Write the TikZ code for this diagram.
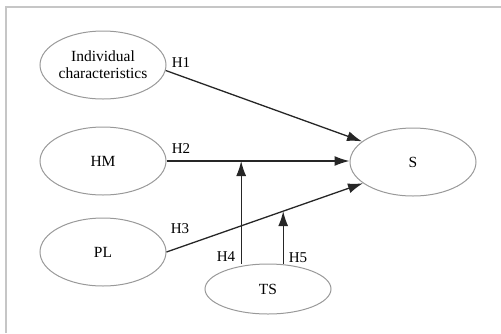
\documentclass[tikz,border=0pt]{standalone}
\usepackage{fontspec}
\setmainfont{Liberation Serif}
\usepackage{tikz}
\usetikzlibrary{positioning,arrows.meta,calc,shapes.geometric}
\tikzset{
    construct/.style = {
        draw=gray!80,
        shape=ellipse,
        minimum width=126pt,
        minimum height=68pt,
        inner sep=0pt,
        line width=1pt,
        font=\fontsize{15.5}{17}\selectfont,
        align=center
    },
    moderator/.style = {
        construct,
        minimum height=50pt
    },
    hyp/.style = {
        font=\fontsize{15}{17}\selectfont,
        inner sep=0pt
    },
    link/.style = {
        draw=black!85,
        line width=1.3pt
    },
    >={Latex[length=15pt,width=10pt]},
}

\begin{document}
\begin{tikzpicture}[x=1pt,y=-1pt]
                \useasboundingbox (0,0) rectangle (501,333);
                \draw[gray!45, line width=2pt] (6,333) |- (501,7);

                \node[construct] (indiv) at (103,65) {Individual\\characteristics};
                \node[construct] (hm) at (103,161) {HM};
                \node[construct] (pl) at (103,252) {PL};
                \node[construct] (s) at (413,162) {S};
                \node[moderator] (ts) at (268,289) {TS};

                \coordinate (m4) at ($(hm.east)!0.408!(hm.east -| s.west)$);
                \coordinate (m5) at ($(pl.east)!0.594!(s.203)$);

                \path[link, ->] (indiv.355) -- (s.158);
                \path[link, ->] (hm.east) -- (hm.east -| s.west);
                \path[link, ->] (pl.east) -- (s.203);
                \path[link, ->] (ts.north -| m4) -- (m4);
                \path[link, ->] (ts.north -| m5) -- (m5);

                \node[hyp] (h1) at (181,63) {H1};
                \node[hyp] (h2) at (181,149) {H2};
                \node[hyp] (h3) at (180,229) {H3};
                \node[hyp] (h4) at (226,257) {H4};
                \node[hyp] (h5) at (298,258) {H5};
            \end{tikzpicture}
\end{document}
